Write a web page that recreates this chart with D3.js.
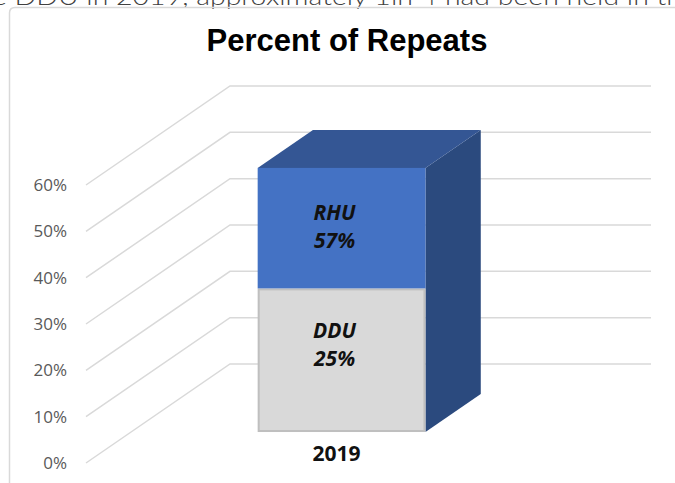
<!DOCTYPE html>
<html>
<head>
<meta charset="utf-8">
<script src="https://cdn.jsdelivr.net/npm/d3@7"></script>
<style>
  body { margin: 0; background: #fff; overflow: hidden; }
  #chart { width: 675px; height: 483px; }
</style>
</head>
<body>
<div id="chart"></div>
<script>

// values
var categories = ["2019"];
var seriesNames = ["DDU", "RHU"];
var dduValues = [0.31];   // drawn height of the grey segment
var rhuValues = [0.26];   // drawn height of the blue segment on top (total 57%)
var labelTexts = [["DDU", "25%"], ["RHU", "57%"]];
var tickValues = [0, 0.1, 0.2, 0.3, 0.4, 0.5, 0.6];

var width = 675, height = 483;

var svg = d3.select("#chart")
    .append("svg")
    .attr("width", width)
    .attr("height", height);

// cut-off caption line from the page above the chart
svg.append("text")
    .attr("x", -8)
    .attr("y", 4.5)
    .attr("fill", "#404040")
    .style("font-family", "Lato")
    .style("font-weight", 300)
    .style("font-size", "24px")
    .attr("textLength", 690)
    .attr("lengthAdjust", "spacingAndGlyphs")
    .text("e DDU in 2019, approximately 1in 4 had been held in th");

// chart area border
svg.append("path")
    .attr("d", "M9.5,483 L9.5,13 Q9.5,7.5 15,7.5 L675,7.5")
    .attr("fill", "none")
    .attr("stroke", "#d9d9d9")
    .attr("stroke-width", 1.5);

svg.append("text")
    .attr("x", 347)
    .attr("y", 51)
    .attr("text-anchor", "middle")
    .style("font-family", "Liberation Sans")
    .style("font-weight", "bold")
    .style("font-size", "31px")
    .attr("fill", "#000")
    .text("Percent of Repeats");

// front plane scales, depth adds an oblique offset
var y = d3.scaleLinear().domain([0, 0.6]).range([463, 185]);
var x = d3.scaleBand().domain(categories).range([86, 507]).paddingInner(0.43).paddingOuter(0.43);
var depthX = 144, depthY = -99;

function pt(px, v, t) {
    return [px + t * depthX, y(v) + t * depthY];
}

// gridlines: diagonal on the side wall then flat along the back wall
var grid = svg.append("g");
tickValues.forEach(function(v) {
    var a = pt(86, v, 0), b = pt(86, v, 1);
    grid.append("path")
        .attr("d", "M" + a + "L" + b + "L651," + b[1])
        .attr("fill", "none")
        .attr("stroke", "#d9d9d9")
        .attr("stroke-width", 1.5);
});

svg.append("g").selectAll("text")
    .data(tickValues)
    .enter()
    .append("text")
        .attr("x", 67)
        .attr("y", function(d) { return y(d); })
        .attr("dy", "0.35em")
        .attr("text-anchor", "end")
        .attr("fill", "#595959")
        .style("font-family", "Open Sans")
        .style("font-size", "17px")
        .text(d3.format(".0%"));

// the 3d column
var t0 = 0.313, t1 = 0.697;
var labelShift = [-22, -8];

categories.forEach(function(c, i) {
    var x0 = x(c), x1 = x(c) + x.bandwidth();
    var total = dduValues[i] + rhuValues[i];
    var g = svg.append("g");

    // side face
    var s = [pt(x1, 0, t0), pt(x1, 0, t1), pt(x1, total, t1), pt(x1, total, t0)];
    g.append("path").attr("d", "M" + s.join("L") + "Z").attr("fill", "#2b4a7e");

    // top face
    var tp = [pt(x0, total, t0), pt(x0, total, t1), pt(x1, total, t1), pt(x1, total, t0)];
    g.append("path").attr("d", "M" + tp.join("L") + "Z").attr("fill", "#345694");

    // front faces
    var a = pt(x0, dduValues[i], t0), b = pt(x1, 0, t0);
    g.append("rect")
        .attr("x", a[0] + 1).attr("y", a[1] + 1)
        .attr("width", b[0] - a[0] - 2).attr("height", b[1] - a[1] - 2)
        .attr("fill", "#d9d9d9")
        .attr("stroke", "#bfbfbf")
        .attr("stroke-width", 2);

    var c2 = pt(x0, total, t0), d2 = pt(x1, dduValues[i], t0);
    g.append("rect")
        .attr("x", c2[0]).attr("y", c2[1])
        .attr("width", d2[0] - c2[0]).attr("height", d2[1] - c2[1])
        .attr("fill", "#4472c4");

    // data labels
    var cx = (a[0] + b[0]) / 2 - 7;
    var mids = [(a[1] + b[1]) / 2, (c2[1] + d2[1]) / 2];
    labelTexts.forEach(function(lines, k) {
        var txt = g.append("text")
            .attr("x", cx)
            .attr("y", mids[k] + labelShift[k])
            .attr("text-anchor", "middle")
            .attr("fill", "#111")
            .style("font-family", "Open Sans")
            .style("font-weight", "bold")
            .style("font-style", "italic")
            .style("font-size", "21px");
        lines.forEach(function(l, j) {
            txt.append("tspan").attr("x", cx).attr("dy", j == 0 ? 0 : 28).text(l);
        });
    });

    svg.append("text")
        .attr("x", cx + 2)
        .attr("y", 461)
        .attr("text-anchor", "middle")
        .attr("fill", "#111")
        .style("font-family", "Open Sans")
        .style("font-weight", "bold")
        .style("font-size", "21px")
        .text(c);
});

</script>
</body>
</html>
